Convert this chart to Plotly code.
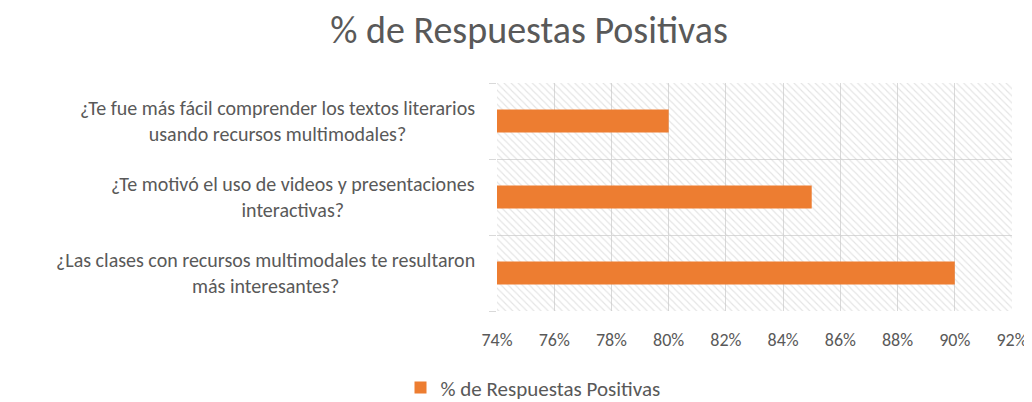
import plotly.graph_objects as go

categories = [
    "¿Las clases con recursos multimodales te resultaron<br>más interesantes?",
    "¿Te motivó el uso de videos y presentaciones<br>interactivas?",
    "¿Te fue más fácil comprender los textos literarios<br>usando recursos multimodales?",
]
values = [0.90, 0.85, 0.80]
series_name = "% de Respuestas Positivas"
x_min, x_max, x_step = 0.74, 0.92, 0.02

FONT = "Carlito, Lato, sans-serif"
TXT = "#595959"
GRID = "#D9D9D9"
ORANGE = "#ED7D31"

fig = go.Figure()
# hatched plot-area background
fig.add_trace(go.Bar(
    y=categories, x=[x_max - x_min] * len(categories), base=x_min,
    orientation="h", width=1.0, showlegend=False, hoverinfo="skip",
    marker=dict(color="rgba(0,0,0,0)", line=dict(width=0),
                pattern=dict(shape="\\", fgcolor="#C9C9C9", bgcolor="rgba(0,0,0,0)",
                             size=5, solidity=0.22)),
))
fig.add_trace(go.Bar(
    y=categories, x=values, orientation="h", name=series_name,
    marker=dict(color=ORANGE, line=dict(width=0)), width=0.3,
))

for c in categories:
    fig.add_annotation(x=0, xref="paper", xanchor="right", xshift=-20,
                       y=c, yref="y", text=c, showarrow=False, align="center",
                       font=dict(family=FONT, size=20, color=TXT))

# page has an 8px body margin; figure sized to fill the rest
fig.update_layout(
    width=1024, height=394,
    margin=dict(l=489, r=20, t=75, b=91),
    paper_bgcolor="white", plot_bgcolor="white",
    barmode="overlay",
    font=dict(family=FONT, color=TXT),
    title=dict(text=series_name, x=0.5088, xref="container", xanchor="center",
               y=0.944, yref="container", yanchor="middle",
               font=dict(family=FONT, size=38, color=TXT)),
    xaxis=dict(range=[x_min, x_max], dtick=x_step, tick0=x_min, tickformat=".0%",
               showgrid=True, gridcolor=GRID, gridwidth=1.3, zeroline=False,
               showline=False, ticks="", ticklabelstandoff=16, automargin=False,
               tickfont=dict(family=FONT, size=18, color=TXT)),
    yaxis=dict(type="category", categoryorder="array", categoryarray=categories,
               showticklabels=False, tickson="boundaries", ticks="outside",
               ticklen=7, tickcolor=GRID, showgrid=True, gridcolor=GRID,
               gridwidth=1.3, showline=False, zeroline=False, automargin=False),
    legend=dict(orientation="h", xref="container", x=0.5127, xanchor="center",
                yref="container", y=0.036, yanchor="middle", itemwidth=30,
                font=dict(family=FONT, size=21, color=TXT)),
    showlegend=True,
)

fig.write_html("out.html")
